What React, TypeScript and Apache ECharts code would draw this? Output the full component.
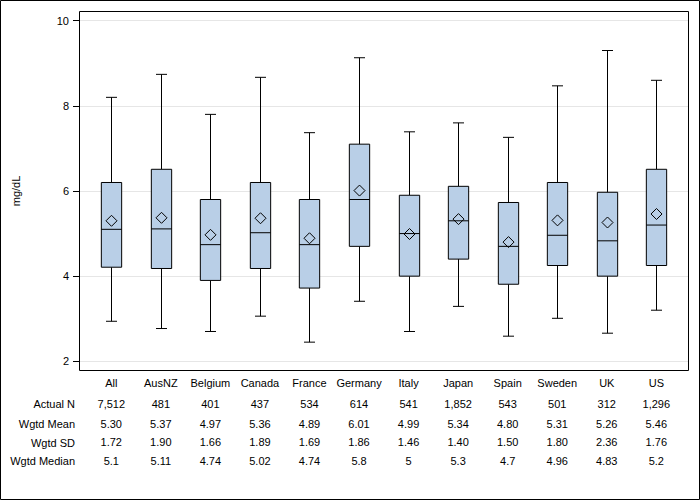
import React, { useEffect, useRef } from "react";
import * as echarts from "echarts";

const categories = ["All", "AusNZ", "Belgium", "Canada", "France", "Germany", "Italy", "Japan", "Spain", "Sweden", "UK", "US"];
const whiskerLow = [2.94, 2.77, 2.7, 3.06, 2.45, 3.41, 2.7, 3.29, 2.59, 3.01, 2.66, 3.2];
const q1 = [4.21, 4.18, 3.9, 4.18, 3.72, 4.7, 4.0, 4.4, 3.81, 4.25, 4.0, 4.25];
const medians = [5.1, 5.11, 4.74, 5.02, 4.74, 5.8, 5, 5.3, 4.7, 4.96, 4.83, 5.2];
const q3 = [6.2, 6.51, 5.8, 6.2, 5.8, 7.1, 5.9, 6.11, 5.73, 6.2, 5.97, 6.51];
const whiskerHigh = [8.2, 8.74, 7.8, 8.67, 7.37, 9.13, 7.39, 7.6, 7.26, 8.47, 9.3, 8.6];
const means = [5.3, 5.37, 4.97, 5.36, 4.89, 6.01, 4.99, 5.34, 4.8, 5.31, 5.26, 5.46];
const actualN = ["7,512", "481", "401", "437", "534", "614", "541", "1,852", "543", "501", "312", "1,296"];
const sds = ["1.72", "1.90", "1.66", "1.89", "1.69", "1.86", "1.46", "1.40", "1.50", "1.80", "2.36", "1.76"];
const yTicks = { min: 2, max: 10, interval: 2 };
const rowHeaders = ["Actual N", "Wgtd Mean", "Wgtd SD", "Wgtd Median"];

const FONT = "'Liberation Sans', Arial, sans-serif";
const BOX_FILL = "#B9CFE7";

export default function App() {
  const ref = useRef<HTMLDivElement>(null);

  useEffect(() => {
    if (!ref.current) return;
    const chart = echarts.init(ref.current, null, { renderer: "svg" });

    const rows: string[][] = [
      actualN,
      means.map((v) => v.toFixed(2)),
      sds,
      medians.map((v) => String(v)),
    ];
    const rowOffsets = [21, 40.7, 59.5, 78.2];
    const rowY = [404, 423.7, 442.5, 461.2];

    const labelAxis = (offset: number, fmt: (i: number) => string) => ({
      type: "category",
      gridIndex: 0,
      position: "bottom",
      offset,
      data: categories,
      boundaryGap: true,
      axisLine: { show: false },
      axisTick: { show: false },
      splitLine: { show: false },
      axisLabel: {
        interval: 0,
        margin: 16,
        fontSize: 11,
        fontFamily: FONT,
        color: "#000",
        formatter: (_v: string, i: number) => fmt(i),
      },
    });

    const data = categories.map((_, i) => [i, whiskerLow[i], q1[i], medians[i], q3[i], whiskerHigh[i], means[i]]);

    const option: any = {
      animation: false,
      backgroundColor: "#fff",
      textStyle: { fontFamily: FONT },
      grid: [
        { left: 86.5, right: 18.9, top: 20.7, bottom: 138.7 },
        { left: 79, right: 12, top: 20.7, bottom: 138.7 },
      ],
      xAxis: [
        labelAxis(0, (i) => categories[i]),
        ...rows.map((r, k) => labelAxis(rowOffsets[k], (i) => r[i])),
        { type: "value", gridIndex: 1, show: false, min: 0, max: 1 },
      ],
      yAxis: [
        { type: "value", gridIndex: 0, min: yTicks.min, max: yTicks.max, show: false },
        {
          type: "value",
          gridIndex: 1,
          min: yTicks.min,
          max: yTicks.max,
          interval: yTicks.interval,
          name: "mg/dL",
          nameLocation: "middle",
          nameGap: 58,
          nameTextStyle: { fontSize: 11, fontFamily: FONT, color: "#000" },
          axisLine: { show: false },
          axisTick: { show: true, length: 6, lineStyle: { color: "#000" } },
          axisLabel: { margin: 10, fontSize: 11, fontFamily: FONT, color: "#000" },
          splitLine: { show: true, lineStyle: { color: "#E6E6E6", width: 1 } },
        },
      ],
      graphic: [
        {
          type: "rect",
          shape: { x: 0.5, y: 0.5, width: 699, height: 499 },
          style: { fill: "none", stroke: "#000", lineWidth: 1 },
          silent: true,
        },
        {
          type: "rect",
          shape: { x: 79.5, y: 11.5, width: 609, height: 359 },
          style: { fill: "none", stroke: "#000", lineWidth: 1 },
          silent: true,
          z: 10,
        },
        ...rowHeaders.map((t, k) => ({
          type: "text",
          x: 75,
          y: rowY[k],
          style: {
            text: t,
            textAlign: "right",
            textVerticalAlign: "middle",
            fontSize: 11,
            fontFamily: FONT,
            fill: "#000",
          },
          silent: true,
        })),
      ],
      series: [
        {
          type: "custom",
          xAxisIndex: 0,
          yAxisIndex: 0,
          encode: { x: 0, y: [1, 2, 3, 4, 5, 6] },
          data,
          renderItem: (params: any, api: any) => {
            const idx = api.value(0);
            const band = api.size([1, 0])[0];
            const bw = band * 0.41;
            const cap = 5.5;
            const pLow = api.coord([idx, api.value(1)]);
            const pQ1 = api.coord([idx, api.value(2)]);
            const pMed = api.coord([idx, api.value(3)]);
            const pQ3 = api.coord([idx, api.value(4)]);
            const pHigh = api.coord([idx, api.value(5)]);
            const pMean = api.coord([idx, api.value(6)]);
            const cx = Math.round(pLow[0]) + 0.5;
            const line = (x1: number, y1: number, x2: number, y2: number) => ({
              type: "line",
              shape: { x1, y1, x2, y2 },
              style: { stroke: "#000", lineWidth: 1 },
            });
            const d = 5.5;
            return {
              type: "group",
              children: [
                line(cx, pLow[1], cx, pQ1[1]),
                line(cx, pQ3[1], cx, pHigh[1]),
                line(cx - cap, pLow[1], cx + cap, pLow[1]),
                line(cx - cap, pHigh[1], cx + cap, pHigh[1]),
                {
                  type: "rect",
                  shape: { x: cx - bw / 2, y: pQ3[1], width: bw, height: pQ1[1] - pQ3[1] },
                  style: { fill: BOX_FILL, stroke: "#000", lineWidth: 1 },
                },
                line(cx - bw / 2, pMed[1], cx + bw / 2, pMed[1]),
                {
                  type: "polygon",
                  shape: {
                    points: [
                      [cx, pMean[1] - d],
                      [cx + d, pMean[1]],
                      [cx, pMean[1] + d],
                      [cx - d, pMean[1]],
                    ],
                  },
                  style: { fill: "none", stroke: "#000", lineWidth: 1 },
                },
              ],
            };
          },
        },
      ],
    };

    chart.setOption(option);
    return () => chart.dispose();
  }, []);

  return (
    <div
      ref={ref}
      style={{ position: "absolute", left: 0, top: 0, width: 700, height: 500, background: "#fff" }}
    />
  );
}
